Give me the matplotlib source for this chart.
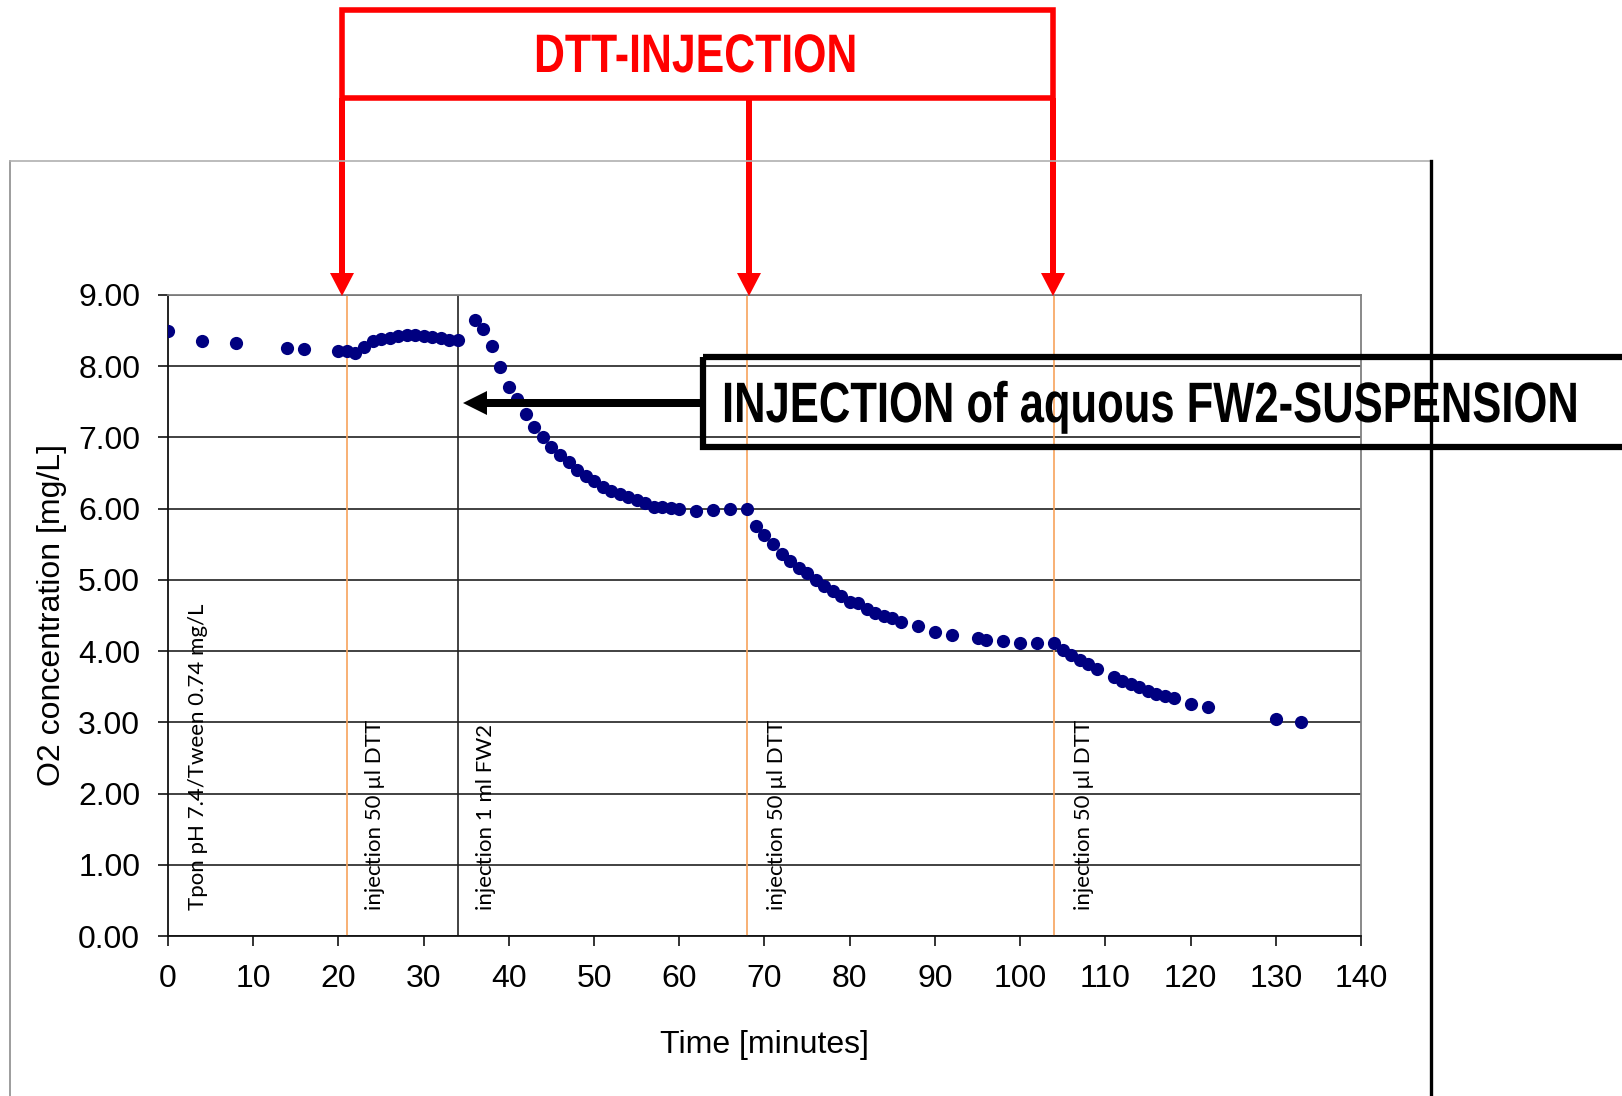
import matplotlib
matplotlib.use("Agg")
import matplotlib.pyplot as plt
from matplotlib.patches import Rectangle
from matplotlib.ticker import FormatStrFormatter
from matplotlib.patheffects import AbstractPathEffect
from matplotlib.transforms import Affine2D

# oxygen measurement, time in minutes and O2 in mg/L
time_min = [0, 4, 8, 14, 16, 20, 21, 22, 23, 24, 25, 26, 27, 28, 29, 30, 31, 32, 33, 34,
            36, 37, 38, 39, 40, 41, 42, 43, 44, 45, 46, 47, 48, 49, 50, 51, 52, 53, 54, 55,
            56, 57, 58, 59, 60, 62, 64, 66, 68,
            69, 70, 71, 72, 73, 74, 75, 76, 77, 78, 79, 80, 81, 82, 83, 84, 85, 86, 88, 90,
            92, 95, 96, 98, 100, 102, 104,
            105, 106, 107, 108, 109, 111, 112, 113, 114, 115, 116, 117, 118, 120, 122, 130, 133]
o2_conc = [8.50, 8.36, 8.33, 8.26, 8.24, 8.22, 8.22, 8.19, 8.27, 8.35, 8.38, 8.40, 8.42, 8.44, 8.44,
           8.42, 8.41, 8.39, 8.37, 8.37,
           8.65, 8.52, 8.29, 7.99, 7.71, 7.54, 7.33, 7.14, 7.01, 6.87, 6.76, 6.65, 6.54, 6.46, 6.39,
           6.31, 6.25, 6.20, 6.16, 6.12, 6.08, 6.03, 6.02, 6.01, 5.99, 5.97, 5.98, 5.99, 6.00,
           5.76, 5.63, 5.51, 5.37, 5.26, 5.17, 5.09, 5.00, 4.92, 4.84, 4.77, 4.69, 4.67, 4.59, 4.54,
           4.49, 4.46, 4.41, 4.35, 4.27, 4.22, 4.18, 4.16, 4.14, 4.11, 4.11, 4.12,
           4.01, 3.95, 3.88, 3.82, 3.75, 3.64, 3.58, 3.54, 3.49, 3.44, 3.40, 3.37, 3.34, 3.26, 3.21,
           3.05, 3.00]

# events marked on the chart
event_labels = ["Tpon pH 7.4/Tween 0.74 mg/L", "injection 50 \u00b5l DTT", "injection 1 ml FW2",
                "injection 50 \u00b5l DTT", "injection 50 \u00b5l DTT"]
dtt_times = [21, 68, 104]
fw2_time = 34


class Squeeze(AbstractPathEffect):
    """Draw text glyphs narrower (no narrow bold face is installed)."""
    def __init__(self, sx):
        super().__init__()
        self.sx = sx

    def draw_path(self, renderer, gc, tpath, affine, rgbFace=None):
        renderer.draw_path(gc, tpath, Affine2D().scale(self.sx, 1) + affine, rgbFace)


W, H = 1622, 1096
fig = plt.figure(figsize=(W / 100, H / 100), dpi=100)
ax = fig.add_axes([168 / W, 1 - 936 / H, (1361 - 168) / W, (936 - 295) / H])

ax.set_xlim(0, 140)
ax.set_ylim(0, 9)
ax.set_xticks(range(0, 141, 10))
ax.set_yticks(range(0, 10))
ax.yaxis.set_major_formatter(FormatStrFormatter("%.2f"))
ax.grid(axis="y", color="#333333", linewidth=1.3)
ax.set_axisbelow(True)

for t in dtt_times:
    ax.axvline(t, color="#F7A35C", linewidth=1.2, zorder=1)
ax.axvline(fw2_time, color="#222222", linewidth=1.2, zorder=1)

ax.plot(time_min, o2_conc, "o", color="#000080", markersize=9.5, markeredgewidth=0, zorder=3)

# rotated notes at the bottom of each event line
note_x = [3.5, 24.3, 37.3, 71.5, 107.5]
for x, lab in zip(note_x, event_labels):
    ax.text(x, 0.37, lab, rotation=90, ha="center", va="bottom",
            fontsize=16, family=["Lato", "DejaVu Sans"], color="#000000", zorder=4)

for side in ["top", "right"]:
    ax.spines[side].set_color("#808080")
for side in ["left", "bottom"]:
    ax.spines[side].set_color("#111111")
for sp in ax.spines.values():
    sp.set_linewidth(1.3)

ax.tick_params(direction="out", length=7, width=1.2, color="#111111",
               labelsize=23, pad=13)
for lab in ax.get_xticklabels() + ax.get_yticklabels():
    lab.set_family("Liberation Sans")
ax.set_xlabel("Time [minutes]", fontsize=23, family="Liberation Sans", labelpad=26)
ax.set_ylabel("O2 concentration [mg/L]", fontsize=23, family="Liberation Sans", labelpad=8)

# overlay in pixel coordinates for the frame, boxes and arrows
ov = fig.add_axes([0, 0, 1, 1], zorder=5)
ov.set_xlim(0, W)
ov.set_ylim(H, 0)
ov.axis("off")

ov.plot([10, 10], [161, H], color="#8c8c8c", linewidth=1.2)
ov.plot([10, 1431], [161, 161], color="#b0b0b0", linewidth=1.2)
ov.plot([1431, 1431], [161, H], color="#000000", linewidth=2.4)

# red DTT box with three arrows down to the injection lines
ov.add_patch(Rectangle((342, 10), 1053 - 342, 88, fill=False, edgecolor="#FF0000", linewidth=4))
ov.text(534, 72, "DTT-INJECTION", ha="left", va="baseline", color="#FF0000",
        fontsize=39, weight="bold", family="Liberation Sans", path_effects=[Squeeze(0.79)])
for arrow_x in [342, 749, 1053]:
    ov.arrow(arrow_x, 98, 0, 296 - 98, width=6, head_width=24, head_length=23,
             length_includes_head=True, color="#FF0000", linewidth=0)

# black FW2 box with arrow pointing to the FW2 line
ov.add_patch(Rectangle((703, 357), 1100, 90, fill=False, edgecolor="#000000", linewidth=4.5,
                       clip_on=False))
ov.text(722, 422, "INJECTION of aquous FW2-SUSPENSION", ha="left", va="baseline", color="#000000",
        fontsize=41, weight="bold", family="Liberation Sans", path_effects=[Squeeze(0.765)])
ov.arrow(703, 403, 463 - 703, 0, width=8, head_width=24, head_length=24,
         length_includes_head=True, color="#000000", linewidth=0)

fig.savefig("out.png", dpi=100)
